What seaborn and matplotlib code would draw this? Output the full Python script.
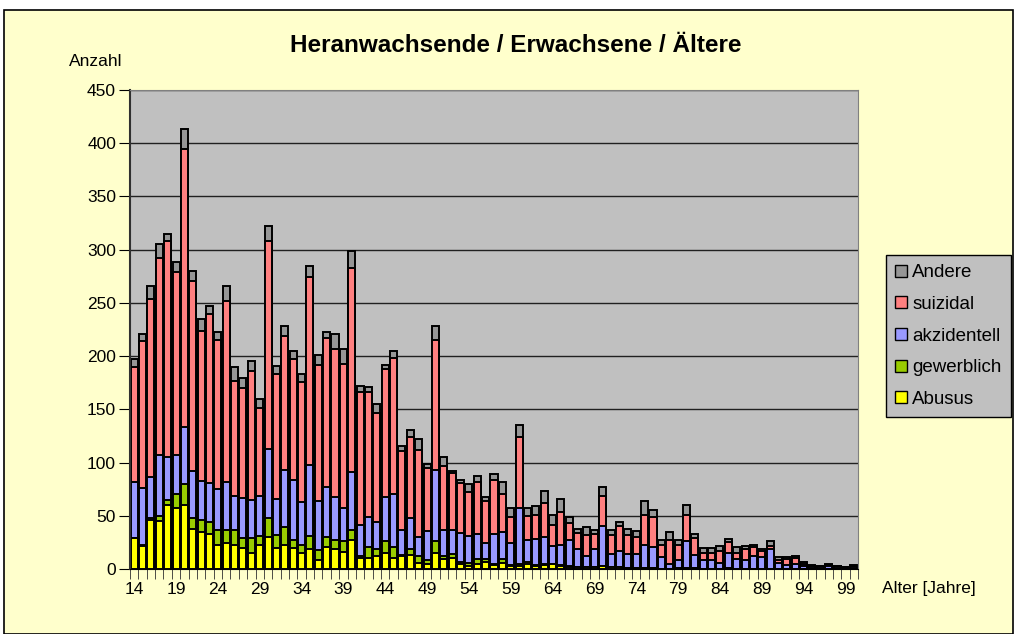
import numpy as np
import pandas as pd
import matplotlib
matplotlib.use("Agg")
import matplotlib.pyplot as plt
from matplotlib.patches import Patch, Rectangle
import seaborn as sns

# Alter 14 .. 100
ages = list(range(14, 101))
abusus = [29, 22, 46, 45, 60, 57, 60, 38, 35, 33, 23, 24, 23, 20, 15, 23, 30, 20, 23, 20,
          15, 19, 8, 21, 19, 16, 27, 10, 10, 12, 15, 10, 12, 13, 6, 5, 15, 9, 10, 5,
          3, 5, 7, 4, 6, 3, 3, 5, 3, 4, 5, 3, 2, 2, 2, 2, 3, 2, 2, 1,
          1, 1, 1, 0, 0, 1, 1, 1, 0, 0, 0, 1, 0, 0, 0, 0, 0, 0, 0, 0,
          0, 0, 0, 0, 0, 0, 0]
gewerblich = [0, 1, 2, 5, 5, 13, 20, 10, 11, 11, 14, 13, 14, 9, 14, 8, 18, 12, 16, 7,
              8, 12, 10, 9, 8, 10, 10, 2, 11, 7, 11, 11, 1, 6, 6, 3, 11, 3, 4, 2,
              3, 4, 2, 1, 3, 1, 2, 2, 1, 1, 0, 1, 1, 0, 0, 0, 0, 0, 0, 0,
              0, 0, 0, 0, 0, 0, 0, 0, 0, 0, 0, 0, 0, 0, 0, 0, 0, 0, 0, 0,
              0, 0, 0, 0, 0, 0, 0]
akzidentell = [53, 53, 38, 57, 40, 37, 53, 44, 37, 37, 38, 45, 32, 38, 36, 38, 65, 34, 54, 57,
               40, 67, 46, 47, 41, 31, 54, 29, 28, 25, 42, 49, 24, 29, 18, 28, 67, 25, 23, 27,
               25, 24, 15, 28, 26, 20, 52, 20, 24, 25, 17, 19, 24, 17, 10, 17, 37, 12, 15, 13,
               13, 22, 20, 11, 5, 7, 25, 12, 8, 8, 6, 14, 9, 8, 12, 11, 19, 6, 4, 5,
               3, 2, 2, 3, 2, 1, 2]
suizidal = [108, 138, 168, 185, 203, 172, 262, 179, 141, 159, 140, 170, 108, 103, 121, 82, 195, 117, 126, 113,
            113, 176, 128, 140, 139, 136, 192, 125, 117, 103, 120, 128, 74, 76, 82, 59, 122, 60, 53, 47,
            41, 49, 40, 51, 35, 25, 67, 23, 23, 32, 19, 31, 16, 15, 20, 14, 29, 18, 23, 18,
            16, 28, 28, 12, 22, 15, 25, 16, 7, 7, 11, 10, 6, 11, 9, 6, 3, 2, 5, 5,
            2, 1, 1, 1, 1, 1, 1]
andere = [7, 7, 12, 13, 7, 9, 18, 9, 11, 7, 8, 14, 13, 9, 9, 9, 14, 8, 9, 8,
          7, 11, 9, 6, 14, 14, 16, 6, 5, 8, 4, 7, 5, 7, 10, 4, 13, 8, 2, 3,
          8, 5, 4, 5, 12, 8, 11, 7, 8, 11, 10, 12, 6, 4, 7, 4, 8, 5, 4, 6,
          6, 13, 6, 4, 8, 4, 9, 4, 5, 5, 5, 3, 6, 3, 2, 2, 4, 3, 2, 2,
          2, 1, 0, 1, 0, 0, 1]

series = ["Abusus", "gewerblich", "akzidentell", "suizidal", "Andere"]
colors = {"Abusus": "#FFFF00", "gewerblich": "#99CC00", "akzidentell": "#9999FF",
          "suizidal": "#FF8080", "Andere": "#969696"}

df = pd.DataFrame({"Alter": ages, "Abusus": abusus, "gewerblich": gewerblich,
                   "akzidentell": akzidentell, "suizidal": suizidal, "Andere": andere})
cum = df[series].cumsum(axis=1)

plt.rcParams['font.family'] = ['Liberation Sans', 'DejaVu Sans']

fig = plt.figure(figsize=(10.16, 6.34), dpi=100, facecolor="white")
# yellow chart area with black frame
fig.patches.append(Rectangle((4 / 1016, 0), 1009 / 1016, 624 / 634, transform=fig.transFigure,
                             facecolor="#FFFFCC", edgecolor="black", linewidth=1.2, zorder=-10))

ax = fig.add_axes([130 / 1016, 65 / 634, 728 / 1016, 479 / 634])
ax.set_facecolor("#C0C0C0")

# stacked bars: draw cumulative totals from top layer down
for name in reversed(series):
    sns.barplot(x=df["Alter"], y=cum[name], color=colors[name], saturation=1,
                edgecolor="black", linewidth=1.4, width=0.84, errorbar=None, ax=ax)

ax.set_xlim(-0.5, len(ages) - 0.5)
ax.set_ylim(0, 450)
ax.set_yticks(np.arange(0, 451, 50))
ax.yaxis.grid(True, color="#202020", linewidth=1)
ax.set_axisbelow(True)

major = list(range(0, len(ages), 5))
ax.set_xticks(major)
ax.set_xticklabels([str(ages[i]) for i in major])
ax.set_xticks(np.arange(-0.5, len(ages)), minor=True)
ax.tick_params(axis="x", which="major", length=0, labelsize=12.5, pad=9)
ax.tick_params(axis="x", which="minor", length=7, direction="out", color="#303030")
ax.tick_params(axis="y", length=8, direction="out", labelsize=12.5, pad=2)
ax.set_xlabel("")
ax.set_ylabel("")
for side in ["top", "right"]:
    ax.spines[side].set_color("#808080")
ax.spines["left"].set_color("#303030")
ax.spines["left"].set_linewidth(1.5)
ax.spines["bottom"].set_color("black")

fig.text(516 / 1016, 1 - 46 / 634, "Heranwachsende / Erwachsene / Ältere", ha="center", va="center",
         fontsize=17.5, fontweight="bold")
fig.text(96 / 1016, 1 - 62 / 634, "Anzahl", ha="center", va="center", fontsize=12.5)
fig.text(929 / 1016, 1 - 589 / 634, "Alter [Jahre]", ha="center", va="center", fontsize=12.5)

handles = [Patch(facecolor=colors[n], edgecolor="black", label=n) for n in reversed(series)]
leg = fig.legend(handles=handles, loc="upper left", bbox_to_anchor=(886 / 1016, 1 - 255 / 634),
                 fontsize=13.5, frameon=True, fancybox=False, framealpha=1,
                 facecolor="#C0C0C0", edgecolor="black", handlelength=0.6, handleheight=0.6,
                 handletextpad=0.3, labelspacing=0.78, borderpad=0.5, borderaxespad=0)

fig.savefig("out.png", dpi=100, facecolor=fig.get_facecolor())
